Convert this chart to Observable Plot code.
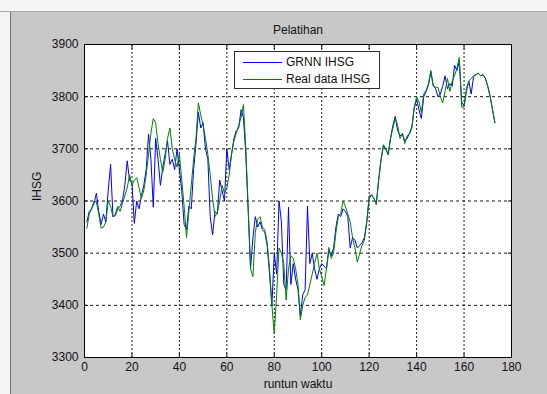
<!DOCTYPE html>
<html>
<head>
<meta charset="utf-8">
<script src="https://cdn.jsdelivr.net/npm/d3@7"></script>
<script src="https://cdn.jsdelivr.net/npm/@observablehq/plot@0.6"></script>
<style>
  html, body { margin: 0; padding: 0; background: #c8c8c8; }
  #fig { position: relative; width: 547px; height: 394px; background: #c8c8c8; overflow: hidden;
         font-family: "Liberation Sans", Arial, Helvetica, sans-serif; }
  #topstrip { position: absolute; left: 0; top: 0; width: 547px; height: 11px; background: #f4f4f4; border-bottom: 1px solid #a8a8a8; }
  #leftstrip { position: absolute; left: 0; top: 12px; width: 10px; height: 382px; background: #f4f4f4; border-right: 1px solid #707070; }
  #chart { position: absolute; left: 0; top: 0; }
  #legend { position: absolute; left: 234px; top: 51px; width: 144px; height: 36px; background: white;
            border: 1px solid #303030; font-size: 12px; color: #111; }
  .row { position: absolute; left: 0; height: 14px; width: 144px; }
  .sw { position: absolute; left: 8px; width: 39px; top: 7px; height: 0; border-top: 1px solid; }
  .lab { position: absolute; left: 51px; top: 0; line-height: 14px; white-space: nowrap; }
</style>
</head>
<body>
<div id="fig">
  <div id="topstrip"></div>
  <div id="leftstrip"></div>
  <div id="chart"></div>
  <div id="legend"></div>
</div>
<script>
const titleText = "Pelatihan";
const xLabel = "runtun waktu";
const yLabel = "IHSG";
const seriesNames = ["GRNN IHSG", "Real data IHSG"];
const seriesColors = ["#0000ff", "#008000"];
const xTicks = [0, 20, 40, 60, 80, 100, 120, 140, 160, 180];
const yTicks = [3300, 3400, 3500, 3600, 3700, 3800, 3900];

// Real data IHSG (green)
const realData = [
  3548, 3575, 3585, 3600, 3598, 3575, 3548, 3550, 3560, 3600,
  3590, 3570, 3575, 3590, 3580, 3595, 3610, 3625, 3650, 3630,
  3640, 3645, 3625, 3605, 3620, 3650, 3690, 3730, 3758, 3750,
  3710, 3680, 3655, 3680, 3720, 3740, 3700, 3680, 3665, 3690,
  3640, 3590, 3530, 3580, 3630, 3680, 3720, 3788, 3765, 3745,
  3720, 3690, 3650, 3605, 3570, 3578, 3600, 3630, 3615, 3625,
  3650, 3690, 3715, 3730, 3745, 3760, 3785, 3700, 3590, 3470,
  3455, 3540, 3565, 3570, 3550, 3545, 3520, 3470, 3400, 3345,
  3420, 3510, 3500, 3480, 3410, 3470, 3495, 3490, 3470, 3440,
  3372, 3400, 3415, 3420, 3440, 3460, 3480, 3500, 3470, 3455,
  3438, 3470, 3511, 3490, 3500, 3540, 3570, 3575, 3600, 3590,
  3575, 3560, 3530, 3510, 3483, 3500, 3515, 3525, 3560, 3610,
  3612, 3605, 3593, 3640, 3680, 3708, 3700, 3688, 3720, 3740,
  3758, 3745, 3720, 3730, 3710, 3725, 3728, 3740, 3780, 3800,
  3790, 3770, 3805, 3812, 3825, 3850, 3820, 3818, 3818, 3800,
  3788, 3810, 3835, 3810, 3830, 3840, 3855, 3875, 3780, 3780,
  3810, 3830, 3835, 3840, 3842, 3845, 3840, 3842, 3835, 3820,
  3800, 3775, 3750
];

// GRNN IHSG (blue)
const grnnData = [
  3560, 3580, 3585, 3595, 3615, 3580, 3555, 3575, 3560, 3620,
  3670, 3570, 3572, 3585, 3590, 3600, 3630, 3677, 3640, 3635,
  3557, 3600, 3585, 3610, 3630, 3660, 3728, 3680, 3588, 3720,
  3680, 3630, 3665, 3690, 3715, 3670, 3680, 3660, 3700, 3660,
  3620, 3555, 3545, 3590, 3585, 3660, 3710, 3770, 3740, 3750,
  3700, 3680, 3570, 3535, 3580, 3575, 3640, 3620, 3600, 3700,
  3660, 3690, 3720, 3735, 3740, 3775, 3760, 3690, 3580, 3470,
  3530, 3570, 3550, 3560, 3545, 3540, 3515, 3460, 3400, 3500,
  3460, 3600, 3560, 3440, 3430, 3588, 3440, 3480, 3450, 3430,
  3380, 3420, 3430, 3590, 3480, 3500, 3470, 3450, 3470, 3480,
  3475, 3470, 3505, 3495, 3510, 3550, 3575, 3570, 3585, 3580,
  3570, 3510, 3530, 3525, 3510, 3515, 3520, 3530, 3560, 3605,
  3612, 3605, 3595, 3640, 3678, 3705, 3700, 3690, 3720, 3745,
  3762, 3735, 3725, 3728, 3715, 3720, 3730, 3742, 3778, 3795,
  3775, 3758, 3800, 3810, 3822, 3848, 3822, 3815, 3800, 3805,
  3820, 3840, 3815, 3825, 3820, 3860, 3850, 3868, 3790, 3782,
  3815, 3830, 3805, 3838, 3842, 3845, 3840, 3842, 3835, 3820,
  3800, 3775, 3750
];

const steps = d3.range(1, realData.length + 1);
const table = steps.map((t, i) => ({t, grnn: grnnData[i], real: realData[i]}));

const font = "'Liberation Sans', Arial, Helvetica, sans-serif";
const gridX = xTicks.slice(1, -1);
const gridY = yTicks.slice(1, -1);
const blank = () => "";
const plain = (d) => String(d);

const chart = Plot.plot({
  width: 547,
  height: 394,
  marginLeft: 84,
  marginRight: 36,
  marginTop: 44,
  marginBottom: 37,
  x: {domain: [0, 180], label: null},
  y: {domain: [3300, 3900], label: null},
  style: {background: "transparent", fontFamily: font, fontSize: "12px", color: "#111", overflow: "visible"},
  marks: [
    Plot.frame({fill: "white", stroke: "none"}),
    Plot.gridY(gridY, {stroke: "black", strokeOpacity: 0.9, strokeDasharray: "3,3", strokeWidth: 1}),
    Plot.gridX(gridX, {stroke: "black", strokeOpacity: 0.9, strokeDasharray: "2,2", strokeWidth: 1}),
    Plot.line(table, {x: "t", y: "grnn", stroke: seriesColors[0], strokeWidth: 1}),
    Plot.line(table, {x: "t", y: "real", stroke: seriesColors[1], strokeWidth: 1}),
    Plot.axisX(xTicks, {anchor: "bottom", tickSize: 0, tickPadding: 5, fontSize: 12, tickFormat: plain}),
    Plot.axisY(yTicks, {anchor: "left", tickSize: 0, tickPadding: 6, fontSize: 12, tickFormat: plain}),
    Plot.axisX(xTicks, {anchor: "bottom", tickSize: -4, tickFormat: blank}),
    Plot.axisX(xTicks, {anchor: "top", tickSize: -4, tickFormat: blank}),
    Plot.axisY(yTicks, {anchor: "left", tickSize: -4, tickFormat: blank}),
    Plot.axisY(yTicks, {anchor: "right", tickSize: -4, tickFormat: blank}),
    Plot.frame({stroke: "black", strokeWidth: 1}),
    Plot.text([titleText], {frameAnchor: "top", dy: -14, lineAnchor: "middle", fontSize: 12, fill: "#111"}),
    Plot.text([xLabel], {frameAnchor: "bottom", dy: 27, lineAnchor: "middle", fontSize: 12, fill: "#111"}),
    Plot.text([yLabel], {frameAnchor: "left", dx: -47, rotate: -90, lineAnchor: "middle", fontSize: 12, fill: "#111"})
  ]
});
document.getElementById("chart").appendChild(chart);

const legend = document.getElementById("legend");
seriesNames.forEach((name, i) => {
  const row = document.createElement("div");
  row.className = "row";
  row.style.top = (3 + i * 17) + "px";
  const sw = document.createElement("div");
  sw.className = "sw";
  sw.style.borderTopColor = seriesColors[i];
  const lab = document.createElement("div");
  lab.className = "lab";
  lab.textContent = name;
  row.appendChild(sw);
  row.appendChild(lab);
  legend.appendChild(row);
});
</script>
</body>
</html>
